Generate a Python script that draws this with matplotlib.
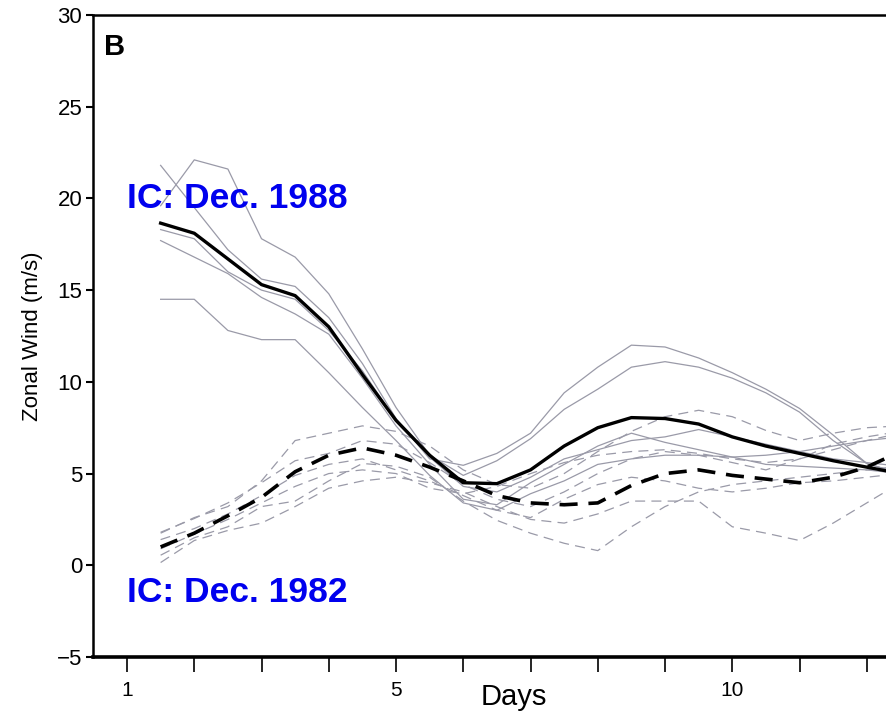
import matplotlib
matplotlib.use('Agg')
import matplotlib.pyplot as plt

plt.rcParams['font.family'] = ['Liberation Sans', 'DejaVu Sans']

# days of the forecast (half-day steps)
days = [1.5, 2, 2.5, 3, 3.5, 4, 4.5, 5, 5.5, 6, 6.5, 7, 7.5, 8, 8.5,
        9, 9.5, 10, 10.5, 11, 11.5, 12, 12.5]

# ensemble mean, IC Dec. 1988 (thick solid) and IC Dec. 1982 (thick dashed)
mean_1988 = [18.65, 18.1, 16.7, 15.3, 14.7, 13.0, 10.4, 7.9, 6.0, 4.5, 4.45, 5.2,
             6.5, 7.5, 8.05, 8.0, 7.7, 7.0, 6.5, 6.1, 5.7, 5.35, 5.0]
mean_1982 = [1.0, 1.75, 2.7, 3.7, 5.1, 6.0, 6.4, 6.0, 5.35, 4.6, 3.8, 3.4,
             3.3, 3.4, 4.35, 5.0, 5.2, 4.9, 4.7, 4.5, 4.8, 5.35, 6.2]

# individual members, IC Dec. 1988
m1988_a = [19.6, 22.1, 21.6, 17.8, 16.8, 14.8, 11.8, 8.6, 6.0, 4.9, 5.7, 6.9,
           8.5, 9.6, 10.8, 11.1, 10.8, 10.2, 9.4, 8.35, 6.8, 5.55, 5.0]
m1988_b = [21.8, 19.5, 17.2, 15.6, 15.2, 13.5, 11.0, 8.0, 5.8, 5.45, 6.1, 7.2,
           9.4, 10.8, 12.0, 11.9, 11.3, 10.5, 9.6, 8.55, 7.1, 5.55, 5.0]
m1988_c = [17.7, 16.8, 15.9, 14.6, 13.7, 12.6, 10.2, 7.6, 5.5, 3.6, 3.3, 4.5,
           5.5, 6.5, 7.2, 6.7, 6.3, 5.9, 5.5, 5.4, 5.3, 5.2, 5.0]
m1988_d = [14.5, 14.5, 12.8, 12.3, 12.3, 10.5, 8.6, 6.8, 4.9, 3.4, 3.0, 3.9,
           4.6, 5.5, 5.8, 6.0, 6.0, 5.9, 6.0, 6.2, 6.5, 6.8, 7.0]
m1988_e = [18.3, 17.8, 16.0, 15.0, 14.5, 12.8, 10.6, 7.9, 5.9, 4.3, 4.0, 4.8,
           5.8, 6.3, 6.8, 7.0, 7.4, 7.0, 6.6, 6.2, 5.8, 5.6, 5.4]

# individual members, IC Dec. 1982
m1982_a = [1.75, 2.6, 3.2, 4.6, 6.8, 7.2, 7.6, 7.3, 6.5, 5.2, 4.4, 4.2,
           5.0, 6.2, 7.3, 8.1, 8.45, 8.1, 7.35, 6.8, 7.2, 7.5, 7.6]
m1982_b = [1.8, 2.55, 3.4, 4.5, 5.7, 6.1, 6.8, 6.6, 5.6, 4.4, 3.6, 3.2,
           4.0, 5.0, 5.8, 6.2, 6.0, 5.6, 5.2, 5.8, 6.6, 7.0, 7.3]
m1982_c = [0.55, 1.5, 2.1, 3.2, 3.5, 4.6, 5.55, 5.4, 4.8, 3.5, 2.45, 1.75,
           1.2, 0.8, 2.1, 3.2, 4.0, 4.4, 4.6, 4.8, 5.0, 5.2, 5.4]
m1982_d = [0.15, 1.35, 1.9, 2.3, 3.2, 4.2, 4.6, 4.8, 4.5, 4.0, 3.2, 2.5,
           2.3, 2.8, 3.5, 3.5, 3.5, 2.1, 1.75, 1.35, 2.3, 3.4, 4.5]
m1982_e = [1.4, 2.0, 2.8, 3.8, 4.9, 5.5, 5.8, 5.2, 4.6, 3.8, 3.0, 2.6,
           3.6, 4.4, 4.8, 4.6, 4.2, 4.0, 4.2, 4.5, 4.6, 4.8, 5.0]
m1982_f = [0.9, 1.7, 2.5, 3.4, 4.3, 5.0, 5.2, 5.0, 4.2, 3.9, 4.3, 5.0,
           5.6, 6.0, 6.2, 6.3, 6.1, 5.8, 5.6, 5.8, 6.3, 6.8, 7.2]

members_1988 = [m1988_a, m1988_b, m1988_c, m1988_d, m1988_e]
members_1982 = [m1982_a, m1982_b, m1982_c, m1982_d, m1982_e, m1982_f]

fig = plt.figure(figsize=(8.86, 7.15), dpi=100)
ax = fig.add_axes([0.1054, 0.0811, 0.9488, 0.898])

member_color = '#9a9aa8'
for m in members_1988:
    ax.plot(days, m, color=member_color, lw=0.9)
for m in members_1982:
    ax.plot(days, m, color=member_color, lw=0.9, dashes=(8, 5))

ax.plot(days, mean_1988, color='black', lw=2.4)
ax.plot(days, mean_1982, color='black', lw=2.6, dashes=(5, 3))

ax.set_xlim(0.5, 13)
ax.set_ylim(-5, 30)

ax.set_xticks([1, 5, 10])
ax.set_xticks(range(1, 14), minor=True)
ax.set_yticks([-5, 0, 5, 10, 15, 20, 25, 30])
ax.set_yticklabels(['\u22125', '0', '5', '10', '15', '20', '25', '30'])
ax.tick_params(axis='x', which='both', direction='out', length=11, width=1.2,
               pad=6, labelsize=15)
ax.tick_params(axis='y', direction='out', length=5, width=1.5, labelsize=16, pad=3)

for side in ['left', 'top']:
    ax.spines[side].set_linewidth(1.8)
ax.spines['bottom'].set_linewidth(2.6)
ax.spines['right'].set_visible(False)

ax.set_xlabel('Days', fontsize=21, labelpad=-12)
ax.set_ylabel('Zonal Wind (m/s)', fontsize=16, labelpad=10)

ax.text(0.013, 0.972, 'B', transform=ax.transAxes, fontsize=21,
        fontweight='bold', va='top', ha='left')
ax.text(1.0, 20.0, 'IC: Dec. 1988', color='#0000ee', fontsize=25.5,
        fontweight='bold', va='center', ha='left')
ax.text(1.0, -1.5, 'IC: Dec. 1982', color='#0000ee', fontsize=25.5,
        fontweight='bold', va='center', ha='left')

fig.savefig('out.png', dpi=100)
